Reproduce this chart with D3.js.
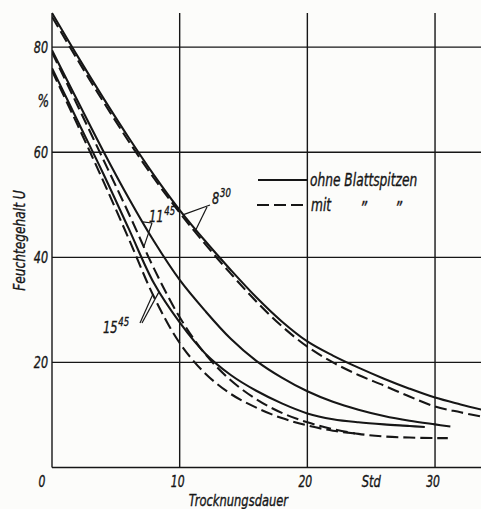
<!DOCTYPE html>
<html>
<head>
<meta charset="utf-8">
<script src="https://cdn.jsdelivr.net/npm/d3@7"></script>
<style>
  html, body { margin: 0; padding: 0; background: #fcfcfa; }
  svg { display: block; }
  text { font-family: "Liberation Sans Narrow", "DejaVu Sans Condensed", "Arial Narrow", "Liberation Sans", sans-serif; font-style: italic; fill: #161616; stroke: #161616; stroke-width: 0.35px; }
</style>
</head>
<body>
<script>
// Drying time in hours (Std) against moisture content U in %
const hours = [0, 2, 4, 6, 8, 10, 12, 14, 16, 18, 20, 22, 24, 26, 28, 30, 32, 34];

// 8.30 h harvest: without leaf tips (solid) and with leaf tips (dashed)
const u830Ohne = [86.5, 78.3, 70.4, 62.8, 55.6, 49.0, 43.1, 37.6, 32.4, 27.8, 24.0, 21.3, 19.0, 16.9, 15.0, 13.3, 12.0, 10.8];
const u830Mit  = [85.8, 77.6, 69.7, 62.1, 55.0, 48.5, 42.5, 36.9, 31.6, 26.9, 23.0, 20.0, 17.6, 15.6, 13.5, 11.6, 10.5, 9.5];

// 11.45 h harvest
const hours1145Ohne = [0, 2, 4, 6, 8, 10, 12, 14, 16, 18, 20, 22, 24, 26, 28, 30, 31.2];
const u1145Ohne = [79.4, 69.8, 60.3, 51.3, 43.0, 35.7, 29.8, 24.5, 20.3, 17.1, 14.5, 12.5, 11.0, 9.8, 8.9, 8.2, 7.8];
const hours1145Mit = [0, 2, 4, 6, 8, 10, 12, 14, 16, 18, 20, 22, 24, 26, 28, 30, 31];
const u1145Mit  = [79.0, 68.9, 58.7, 48.4, 37.8, 28.6, 21.6, 16.6, 13.0, 10.4, 8.6, 7.3, 6.4, 5.9, 5.7, 5.6, 5.6];

// 15.45 h harvest
const hours1545Ohne = [0, 2, 4, 6, 8, 10, 12, 14, 16, 18, 20, 22, 24, 26, 28, 29.2];
const u1545Ohne = [76.0, 66.0, 56.0, 45.5, 35.0, 27.6, 21.7, 17.6, 14.6, 12.2, 10.3, 9.2, 8.6, 8.2, 7.9, 7.7];
const hours1545Mit = [0, 2, 4, 6, 8, 10, 12, 14, 16, 18, 20, 22, 24];
const u1545Mit  = [75.5, 65.2, 54.6, 43.6, 32.4, 23.7, 17.9, 14.0, 11.4, 9.4, 8.0, 7.0, 6.4];

const xTicks = [10, 20, 30];
const yTicks = [20, 40, 60, 80];
const legendLabels = ["ohne Blattspitzen", "mit"];
const curveLabels = [
  { base: "8", sup: "30" },
  { base: "11", sup: "45" },
  { base: "15", sup: "45" }
];

const W = 481, H = 509;
const svg = d3.select("body").append("svg").attr("width", W).attr("height", H);

const x = d3.scaleLinear().domain([0, 33.6]).range([52, 481]);
const y = d3.scaleLinear().domain([0, 86.5]).range([467.5, 13]);
const ink = "#161616";

// grid and axes
const grid = svg.append("g").attr("stroke", ink).attr("stroke-width", 1.4).attr("fill", "none");
[0, ...xTicks].forEach(t => {
  grid.append("line").attr("x1", x(t)).attr("x2", x(t)).attr("y1", y(0)).attr("y2", y(86.5));
});
[0, ...yTicks].forEach(t => {
  grid.append("line").attr("x1", x(0)).attr("x2", x(33.6)).attr("y1", y(t)).attr("y2", y(t));
});

// condensed italic text: drawn at the origin of a translated, narrowed frame
function label(g, px, py, str, size, anchor, squeeze = 0.8, rotate = 0) {
  return g.append("text")
    .attr("transform", `translate(${px},${py}) rotate(${rotate}) scale(${squeeze},1)`)
    .attr("font-size", size).attr("text-anchor", anchor || "start").text(str);
}

// tick labels
yTicks.forEach(d => label(svg, x(0) - 4, y(d) + 5.5, d, 15.5, "end"));
label(svg, x(0) - 3, y(70) + 7, "%", 17, "end");
[0, ...xTicks].forEach(d => {
  label(svg, d === 0 ? x(0) - 10 : x(d) - 2, 487, d, 15, "middle");
});
label(svg, x(25), 487, "Std", 16, "middle");
label(svg, x(14.6), 506, "Trocknungsdauer", 16, "middle");
label(svg, 25, y(43.2), "Feuchtegehalt  U", 16, "middle", 0.85, -90);

// curves
svg.append("clipPath").attr("id", "plot")
  .append("rect").attr("x", x(0)).attr("y", 0).attr("width", x(33.6) - x(0)).attr("height", y(0));

const line = d3.line().x(d => x(d[0])).y(d => y(d[1])).curve(d3.curveCatmullRom.alpha(0.5));
const series = [
  { xs: hours, ys: u830Ohne, dash: null },
  { xs: hours, ys: u830Mit, dash: "12,5" },
  { xs: hours1145Ohne, ys: u1145Ohne, dash: null },
  { xs: hours1145Mit, ys: u1145Mit, dash: "12,5" },
  { xs: hours1545Ohne, ys: u1545Ohne, dash: null },
  { xs: hours1545Mit, ys: u1545Mit, dash: "12,5" }
];
const curves = svg.append("g").attr("clip-path", "url(#plot)");
series.forEach(s => {
  curves.append("path")
    .attr("d", line(d3.zip(s.xs, s.ys)))
    .attr("fill", "none").attr("stroke", ink).attr("stroke-width", 2.1)
    .attr("stroke-dasharray", s.dash);
});

// value on a series at a given hour, for placing label leaders
function at(s, h) {
  const i = d3.bisectRight(s.xs, h) - 1;
  const t = (h - s.xs[i]) / (s.xs[i + 1] - s.xs[i]);
  return [x(h), y(s.ys[i] + t * (s.ys[i + 1] - s.ys[i]))];
}

// harvest-time labels (hour with superscript minutes) and leader lines
const labelSpec = [
  { lab: curveLabels[0], pos: [212, 204], from: [[210, 205], [207, 207]], to: [at(series[0], 10.3), at(series[1], 11.2)] },
  { lab: curveLabels[1], pos: [149, 222], from: [[152, 223], [152, 223]], to: [at(series[2], 7.1), at(series[3], 7.2)] },
  { lab: curveLabels[2], pos: [103, 333], from: [[140, 323], [142, 323]], to: [at(series[5], 7.9), at(series[4], 8.4)] }
];
labelSpec.forEach(l => {
  const t = label(svg, l.pos[0], l.pos[1], "", 15.5, "start", 0.82);
  t.append("tspan").text(l.lab.base);
  t.append("tspan").attr("dx", 1).attr("dy", -7).attr("font-size", 11.5).text(l.lab.sup);
  l.from.forEach((f, i) => {
    svg.append("line").attr("x1", f[0]).attr("y1", f[1]).attr("x2", l.to[i][0]).attr("y2", l.to[i][1])
      .attr("stroke", ink).attr("stroke-width", 1.2);
  });
});

// legend
const lg = svg.append("g");
lg.append("line").attr("x1", 258).attr("x2", 307).attr("y1", 180).attr("y2", 180)
  .attr("stroke", ink).attr("stroke-width", 2.2);
lg.append("line").attr("x1", 257).attr("x2", 305).attr("y1", 205).attr("y2", 205)
  .attr("stroke", ink).attr("stroke-width", 2.2).attr("stroke-dasharray", "12,5");
label(lg, 310, 186, legendLabels[0], 17, "start", 0.8);
label(lg, 311, 211, legendLabels[1], 17, "start", 0.8);
label(lg, 360, 214, "\u201D", 17, "start", 0.9);
label(lg, 395, 214, "\u201D", 17, "start", 0.9);
</script>
</body>
</html>
